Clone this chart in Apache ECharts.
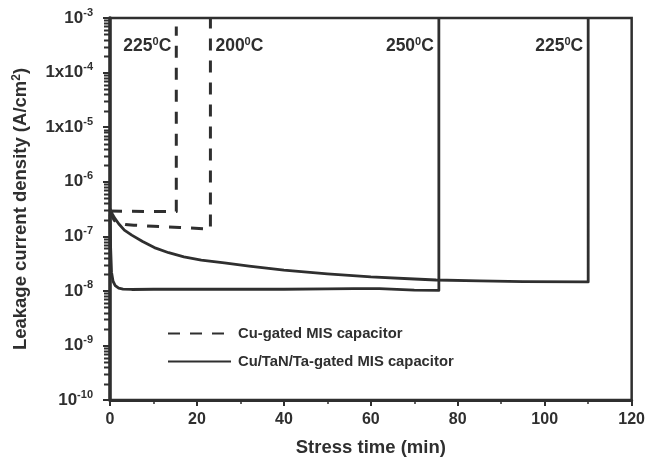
<!DOCTYPE html>
<html>
<head>
<meta charset="utf-8">
<script src="https://cdn.jsdelivr.net/npm/echarts@6/dist/echarts.min.js"></script>
<style>
  html, body { margin: 0; padding: 0; background: #ffffff; }
  #chart { width: 648px; height: 465px; }
</style>
</head>
<body>
<div id="chart"></div>
<script>
// Leakage current density (A/cm^2) versus stress time (min) for two gate stacks.
// Each run ends with a vertical step where the dielectric breaks down.

// Cu gate, stressed at 225 °C
const cu225Time = [0, 8, 15.25, 15.25];
const cu225J    = [2.9e-7, 2.85e-7, 2.85e-7, 7e-4];

// Cu gate, stressed at 200 °C
const cu200Time = [0, 0.5, 1, 2, 3.5, 5.5, 10, 16, 21.7, 23.1, 23.1];
const cu200J    = [2.9e-7, 2.3e-7, 1.95e-7, 1.75e-7, 1.65e-7, 1.6e-7, 1.52e-7, 1.45e-7, 1.37e-7, 1.36e-7, 1e-3];

// Cu/TaN/Ta gate, stressed at 250 °C
const tan250Time = [0, 0.15, 0.35, 0.7, 1.2, 2, 3, 5, 10, 20, 30, 40, 50, 56, 62, 66, 70, 75.65, 75.65];
const tan250J    = [2.5e-7, 6e-8, 2.2e-8, 1.5e-8, 1.25e-8, 1.12e-8, 1.08e-8, 1.06e-8, 1.07e-8, 1.07e-8,
                    1.07e-8, 1.07e-8, 1.09e-8, 1.1e-8, 1.1e-8, 1.06e-8, 1.03e-8, 1.02e-8, 1e-3];

// Cu/TaN/Ta gate, stressed at 225 °C
const tan225Time = [0, 0.5, 1, 2, 3.3, 5, 7.5, 10.2, 13.5, 17, 21, 26.3, 32, 40, 50, 60, 70, 75, 85, 95, 110, 110];
const tan225J    = [3.2e-7, 2.6e-7, 2.2e-7, 1.7e-7, 1.3e-7, 1.05e-7, 8e-8, 6.2e-8, 5e-8, 4.2e-8, 3.65e-8,
                    3.25e-8, 2.85e-8, 2.4e-8, 2.05e-8, 1.8e-8, 1.65e-8, 1.58e-8, 1.52e-8, 1.48e-8, 1.46e-8, 1e-3];

// Legend entries
const seriesNames = ['Cu-gated MIS capacitor', 'Cu/TaN/Ta-gated MIS capacitor'];

// Stress temperatures (°C) written next to each breakdown step
const tempCu225 = '225';
const tempCu200 = '200';
const tempTan250 = '250';
const tempTan225 = '225';

// Axis ticks
const xTicks = [0, 20, 40, 60, 80, 100, 120];
const yTickExponents = [-10, -9, -8, -7, -6, -5, -4, -3];
const yTickMantissas = ['', '', '', '', '', '1x', '1x', ''];

// ---- styling ----
const INK = '#2f2f2f';
const FONT = '"Liberation Sans", Arial, Helvetica, sans-serif';
const LABEL_LEVEL = 3.0e-4; // height of the temperature captions, in J units

const pairs = (xs, ys) => xs.map((x, i) => [x, ys[i]]);

function tempCaption(temp, time, side) {
  return {
    coord: [time, LABEL_LEVEL],
    symbol: 'circle',
    symbolSize: 0,
    label: {
      show: true,
      position: 'inside',
      align: side === 'left' ? 'right' : 'left',
      verticalAlign: 'middle',
      offset: [side === 'left' ? -5 : 5, 0],
      formatter: '{b|' + temp + '}{s|0}{b|C}',
      rich: {
        b: { fontFamily: FONT, fontWeight: 'bold', fontSize: 17.5, color: INK, lineHeight: 20 },
        s: { fontFamily: FONT, fontWeight: 'bold', fontSize: 11, color: INK, lineHeight: 11, verticalAlign: 'top' }
      }
    }
  };
}

function lineSeries(name, data, dashed, width, caption) {
  return {
    type: 'line',
    name: name,
    data: data,
    showSymbol: false,
    symbol: 'none',
    animation: false,
    clip: true,
    lineStyle: { color: INK, width: width, type: dashed ? [12, 10] : 'solid', cap: 'butt', join: 'round' },
    itemStyle: { color: INK },
    markPoint: { silent: true, animation: false, data: [caption] }
  };
}

const chart = echarts.init(document.getElementById('chart'), null, { renderer: 'canvas' });

chart.setOption({
  backgroundColor: '#ffffff',
  animation: false,
  grid: {
    left: 110, right: 16, top: 18, bottom: 65,
    show: true, borderColor: INK, borderWidth: 2.5, backgroundColor: 'transparent'
  },
  legend: {
    data: seriesNames,
    orient: 'vertical',
    left: 162, top: 321,
    itemWidth: 63, itemHeight: 14, itemGap: 13,
    itemStyle: { opacity: 0 },
    textStyle: { fontFamily: FONT, fontWeight: 'bold', fontSize: 14.8, color: INK, padding: [0, 0, 0, 2] },
    selectedMode: false
  },
  xAxis: {
    type: 'value',
    min: xTicks[0], max: xTicks[xTicks.length - 1], interval: xTicks[1] - xTicks[0],
    name: 'Stress time (min)',
    nameLocation: 'middle', nameGap: 38,
    nameTextStyle: { fontFamily: FONT, fontWeight: 'bold', fontSize: 18.5, color: INK },
    axisLine: { show: true, lineStyle: { color: INK, width: 3 } },
    axisTick: { show: true, length: 6, lineStyle: { color: INK, width: 2 } },
    minorTick: { show: true, splitNumber: 2, length: 4, lineStyle: { color: INK, width: 1.5 } },
    axisLabel: { margin: 12, fontFamily: FONT, fontWeight: 'bold', fontSize: 16, color: INK },
    splitLine: { show: false }
  },
  yAxis: {
    type: 'log', logBase: 10,
    min: Math.pow(10, yTickExponents[0]),
    max: Math.pow(10, yTickExponents[yTickExponents.length - 1]),
    interval: 1,
    name: 'Leakage current density (A/cm{s|2})',
    nameLocation: 'middle', nameGap: 80, nameRotate: 90,
    nameTextStyle: {
      fontFamily: FONT, fontWeight: 'bold', fontSize: 18.5, color: INK,
      rich: { s: { fontFamily: FONT, fontWeight: 'bold', fontSize: 12, color: INK, verticalAlign: 'top', lineHeight: 12 } }
    },
    axisLine: { show: true, lineStyle: { color: INK, width: 3.5 } },
    axisTick: { show: true, length: 7, lineStyle: { color: INK, width: 2 } },
    axisLabel: {
      margin: 17,
      formatter: function (v) {
        const e = Math.round(Math.log10(v));
        const i = yTickExponents.indexOf(e);
        return '{b|' + (yTickMantissas[i] || '') + '10}{s|' + e + '}';
      },
      rich: {
        b: { fontFamily: FONT, fontWeight: 'bold', fontSize: 17, color: INK, lineHeight: 22 },
        s: { fontFamily: FONT, fontWeight: 'bold', fontSize: 11, color: INK, lineHeight: 11, verticalAlign: 'top' }
      }
    },
    splitLine: { show: false }
  },
  series: [
    lineSeries(seriesNames[0], pairs(cu225Time, cu225J), true, 3,
      tempCaption(tempCu225, cu225Time[cu225Time.length - 1], 'left')),
    lineSeries(seriesNames[0], pairs(cu200Time, cu200J), true, 3,
      tempCaption(tempCu200, cu200Time[cu200Time.length - 1], 'right')),
    lineSeries(seriesNames[1], pairs(tan250Time, tan250J), false, 2.8,
      tempCaption(tempTan250, tan250Time[tan250Time.length - 1], 'left')),
    lineSeries(seriesNames[1], pairs(tan225Time, tan225J), false, 2.8,
      tempCaption(tempTan225, tan225Time[tan225Time.length - 1], 'left'))
  ]
});

// Minor ticks of the log axis at 2..9 x 10^n, placed through the axis scale.
const axisX = chart.convertToPixel({ xAxisIndex: 0 }, xTicks[0]);
const minorTicks = [];
for (let e = yTickExponents[0]; e < yTickExponents[yTickExponents.length - 1]; e++) {
  for (let k = 2; k <= 9; k++) {
    const py = Math.round(chart.convertToPixel({ yAxisIndex: 0 }, k * Math.pow(10, e))) + 0.5;
    minorTicks.push({
      type: 'line',
      silent: true,
      z: 10,
      shape: { x1: axisX - 6, y1: py, x2: axisX, y2: py },
      style: { stroke: INK, lineWidth: 2 }
    });
  }
}
chart.setOption({ graphic: { elements: minorTicks } });
</script>
</body>
</html>
